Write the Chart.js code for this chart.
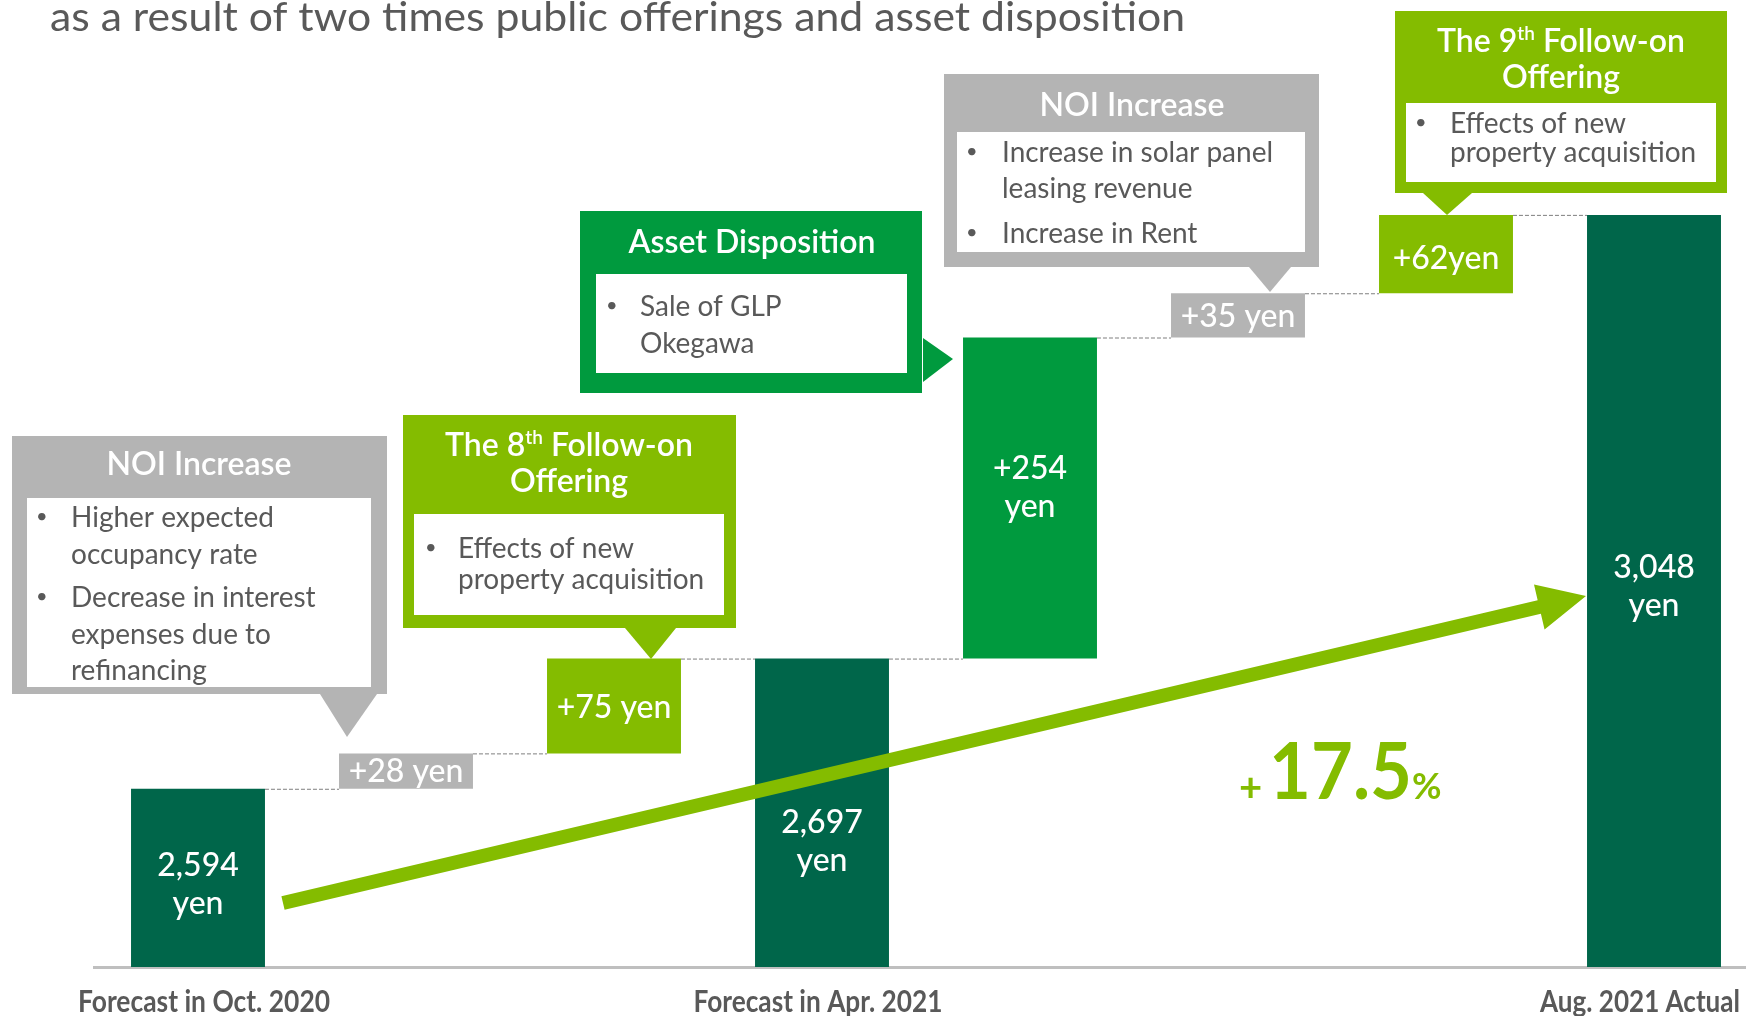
<!DOCTYPE html>
<html>
<head>
<meta charset="utf-8">
<script src="https://cdn.jsdelivr.net/npm/chart.js@4.4.1/dist/chart.umd.min.js"></script>
<style>
  html, body { margin: 0; padding: 0; background: #fff; overflow: hidden; }
  #wrap { position: relative; width: 1770px; height: 1016px; }
</style>
</head>
<body>
<div id="wrap"><canvas id="dpuChart" width="1770" height="1016"></canvas></div>
<script>
// Distribution per unit bridge (yen)
const categories = ['Forecast in Oct. 2020', 'NOI Increase', 'The 8th Follow-on Offering', 'Forecast in Apr. 2021',
                    'Asset Disposition', 'NOI Increase', 'The 9th Follow-on Offering', 'Aug. 2021 Actual'];
const stepValues = [2594, 28, 75, 2697, 254, 35, 62, 3048];
const isTotal = [true, false, false, true, false, false, false, true];
const barLabels = [['2,594', 'yen'], ['+28 yen'], ['+75 yen'], ['2,697', 'yen'], ['+254', 'yen'], ['+35 yen'], ['+62yen'], ['3,048', 'yen']];
const axisLabels = ['Forecast in Oct. 2020', '', '', 'Forecast in Apr. 2021', '', '', '', 'Aug. 2021 Actual'];
const growthText = '17.5';
const yMin = 2453;
const yMax = 3218;

const barColors = ['#00664a', '#b4b4b4', '#84bc00', '#00664a', '#009a3e', '#b4b4b4', '#84bc00', '#00664a'];
const labelShift = [6, 0, 1, 28, -11, 1, 4, -5];

// floating bars: totals start at the axis floor, increments start at the running total
let running = 0;
const ranges = stepValues.map((v, i) => {
    if (isTotal[i]) { running = v; return [yMin, v]; }
    const r = [running, running + v];
    running += v;
    return r;
});

const GRAY = '#b4b4b4', LIME = '#84bc00', GREEN = '#009a3e', TEXT = '#595959';

const callouts = [
    { color: GRAY, box: [12, 436, 387, 694], inner: [27, 498, 371, 687], pointer: [[320, 694], [377, 694], [347, 737]],
      cx: 199, title: [{ text: 'NOI Increase', y: 475 }], bulletX: 39, textX: 71,
      lines: [{ b: true, t: 'Higher expected', y: 527 }, { t: 'occupancy rate', y: 564 },
              { b: true, t: 'Decrease in interest', y: 607 }, { t: 'expenses due to', y: 644 }, { t: 'refinancing', y: 680 }] },
    { color: LIME, box: [403, 415, 736, 628], inner: [414, 514, 724, 615], pointer: [[625, 628], [676, 628], [651, 659]],
      cx: 569, title: [{ pre: 'The 8', sup: 'th', post: ' Follow-on', y: 456 }, { text: 'Offering', y: 492 }], bulletX: 428, textX: 458,
      lines: [{ b: true, t: 'Effects of new', y: 558 }, { t: 'property acquisition', y: 589 }] },
    { color: GREEN, box: [580, 211, 922, 393], inner: [596, 274, 907, 373], pointer: [[923, 338], [923, 382], [953, 359]],
      cx: 752, title: [{ text: 'Asset Disposition', y: 253 }], bulletX: 609, textX: 640,
      lines: [{ b: true, t: 'Sale of GLP', y: 316 }, { t: 'Okegawa', y: 353 }] },
    { color: GRAY, box: [944, 74, 1319, 267], inner: [957, 132, 1305, 252], pointer: [[1249, 267], [1291, 267], [1270, 292]],
      cx: 1132, title: [{ text: 'NOI Increase', y: 116 }], bulletX: 969, textX: 1002,
      lines: [{ b: true, t: 'Increase in solar panel', y: 162 }, { t: 'leasing revenue', y: 198 }, { b: true, t: 'Increase in Rent', y: 243 }] },
    { color: LIME, box: [1395, 11, 1727, 193], inner: [1406, 103, 1716, 182], pointer: [[1423, 193], [1472, 193], [1447, 215]],
      cx: 1561, title: [{ pre: 'The 9', sup: 'th', post: ' Follow-on', y: 52 }, { text: 'Offering', y: 88 }], bulletX: 1418, textX: 1450,
      lines: [{ b: true, t: 'Effects of new', y: 133 }, { t: 'property acquisition', y: 162 }] }
];

function poly(ctx, pts, color) {
    ctx.fillStyle = color;
    ctx.beginPath();
    pts.forEach((p, i) => i ? ctx.lineTo(p[0], p[1]) : ctx.moveTo(p[0], p[1]));
    ctx.closePath();
    ctx.fill();
}

function squeezeText(ctx, text, x, y, width, align) {
    const w = ctx.measureText(text).width;
    const k = width / w;
    let left = x;
    if (align === 'center') left = x - width / 2;
    if (align === 'right') left = x - width;
    ctx.save();
    ctx.textAlign = 'left';
    ctx.translate(left, y);
    ctx.scale(k, 1);
    ctx.fillText(text, 0, 0);
    ctx.restore();
}

function drawCallout(ctx, c) {
    ctx.fillStyle = c.color;
    ctx.fillRect(c.box[0], c.box[1], c.box[2] - c.box[0], c.box[3] - c.box[1]);
    poly(ctx, c.pointer, c.color);
    ctx.fillStyle = '#ffffff';
    ctx.fillRect(c.inner[0], c.inner[1], c.inner[2] - c.inner[0], c.inner[3] - c.inner[1]);

    const big = '600 32px Lato', small = '600 19px Lato';
    ctx.fillStyle = '#ffffff';
    c.title.forEach(t => {
        if (t.text) {
            ctx.font = big;
            ctx.textAlign = 'center';
            ctx.fillText(t.text, c.cx, t.y);
        } else {
            ctx.textAlign = 'left';
            ctx.font = big;
            const w1 = ctx.measureText(t.pre).width, w3 = ctx.measureText(t.post).width;
            ctx.font = small;
            const w2 = ctx.measureText(t.sup).width;
            const x = c.cx - (w1 + w2 + w3) / 2;
            ctx.font = big;
            ctx.fillText(t.pre, x, t.y);
            ctx.font = small;
            ctx.fillText(t.sup, x + w1, t.y - 12);
            ctx.font = big;
            ctx.fillText(t.post, x + w1 + w2, t.y);
        }
    });

    ctx.fillStyle = TEXT;
    ctx.textAlign = 'left';
    c.lines.forEach(l => {
        if (l.b) {
            ctx.font = '20px Lato';
            ctx.fillText('•', c.bulletX - 3, l.y - 4);
        }
        ctx.font = '28px Lato';
        ctx.fillText(l.t, c.textX, l.y);
    });
}

const annotations = {
    id: 'annotations',
    afterDatasetsDraw(chart) {
        const ctx = chart.ctx;
        const bars = chart.getDatasetMeta(0).data;
        const y = chart.scales.y;

        ctx.save();
        // dashed connectors at the running level
        ctx.strokeStyle = '#7f7f7f';
        ctx.lineWidth = 1;
        ctx.setLineDash([4, 2]);
        for (let i = 0; i < bars.length - 1; i++) {
            const level = y.getPixelForValue(ranges[i][1]) + 0.5;
            ctx.beginPath();
            ctx.moveTo(bars[i].x + bars[i].width / 2, level);
            ctx.lineTo(bars[i + 1].x - bars[i + 1].width / 2, level);
            ctx.stroke();
        }
        ctx.setLineDash([]);

        // growth arrow
        const start = [283, 903], tip = [1586, 596];
        const dx = tip[0] - start[0], dy = tip[1] - start[1];
        const len = Math.hypot(dx, dy), ux = dx / len, uy = dy / len, nx = -uy, ny = ux;
        const headLen = 48, headHalf = 23, shaft = 7;
        const bx = tip[0] - ux * headLen, by = tip[1] - uy * headLen;
        poly(ctx, [
            [start[0] + nx * shaft, start[1] + ny * shaft],
            [bx + nx * shaft, by + ny * shaft],
            [bx + nx * headHalf, by + ny * headHalf],
            tip,
            [bx - nx * headHalf, by - ny * headHalf],
            [bx - nx * shaft, by - ny * shaft],
            [start[0] - nx * shaft, start[1] - ny * shaft]
        ], LIME);

        // bar labels
        ctx.fillStyle = '#ffffff';
        ctx.font = '500 32px Lato';
        ctx.textAlign = 'center';
        bars.forEach((bar, i) => {
            const mid = (bar.y + bar.base) / 2 + labelShift[i];
            const lines = barLabels[i];
            if (lines.length === 1) {
                ctx.fillText(lines[0], bar.x, mid + 11);
            } else {
                ctx.fillText(lines[0], bar.x, mid - 8);
                ctx.fillText(lines[1], bar.x, mid + 30);
            }
        });

        // +17.5%
        ctx.fillStyle = LIME;
        ctx.textAlign = 'left';
        ctx.font = 'bold 40px Lato';
        ctx.fillText('+', 1239, 801);
        ctx.font = 'bold 78px Lato';
        squeezeText(ctx, growthText, 1269, 799, 143, 'left');
        ctx.font = 'bold 36px Lato';
        ctx.fillText('%', 1412, 799);

        callouts.forEach(c => drawCallout(ctx, c));

        // heading line
        ctx.fillStyle = TEXT;
        ctx.font = '40px Lato';
        squeezeText(ctx, 'as a result of two times public offerings and asset disposition', 50, 31, 1135, 'left');

        // category labels
        ctx.font = 'bold 30px Lato';
        const widths = [252, 0, 0, 249, 0, 0, 0, 200];
        axisLabels.forEach((t, i) => {
            if (!t) return;
            let cx = bars[i].x;
            if (cx + widths[i] / 2 > 1744) cx = 1744 - widths[i] / 2;
            squeezeText(ctx, t, cx + (i === 0 ? 6 : -4), 1012, widths[i], 'center');
        });
        ctx.restore();
    }
};

new Chart(document.getElementById('dpuChart'), {
    type: 'bar',
    data: {
        labels: categories,
        datasets: [{
            data: ranges,
            backgroundColor: barColors,
            borderWidth: 0,
            barPercentage: 0.644,
            categoryPercentage: 1
        }]
    },
    options: {
        responsive: false,
        animation: false,
        devicePixelRatio: 1,
        layout: { padding: { left: 94, right: 12, top: 0, bottom: 49 } },
        plugins: { legend: { display: false }, tooltip: { enabled: false } },
        scales: {
            x: {
                grid: { display: false, drawTicks: false },
                ticks: { display: false },
                border: { display: true, color: '#bfbfbf', width: 3 }
            },
            y: { display: false, min: yMin, max: yMax }
        }
    },
    plugins: [annotations]
});
</script>
</body>
</html>
